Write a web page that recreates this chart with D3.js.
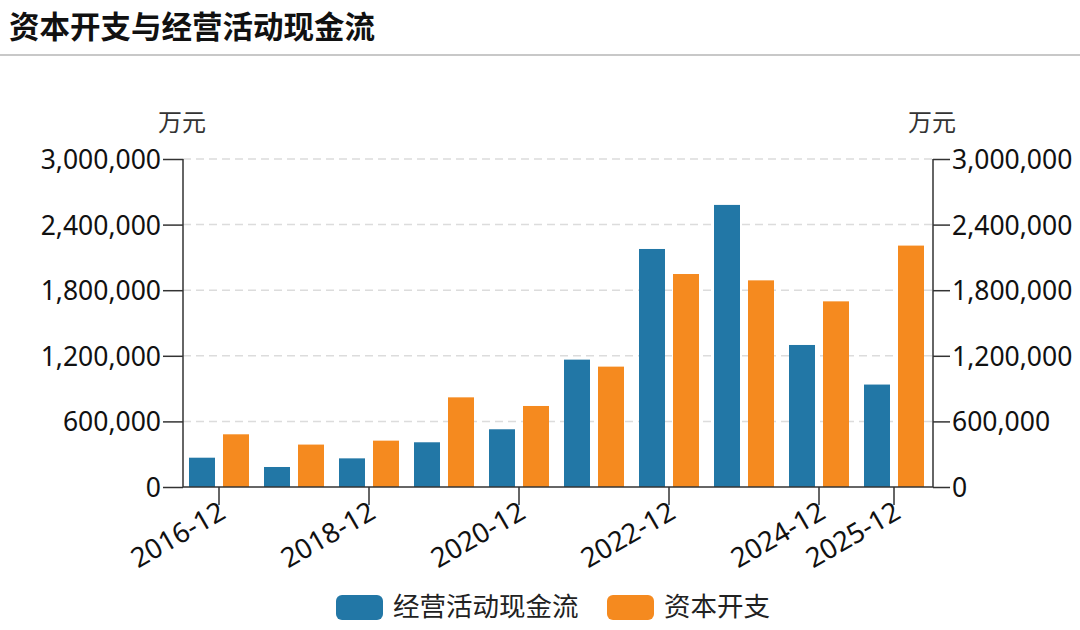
<!DOCTYPE html>
<html><head><meta charset="utf-8">
<script src="https://cdn.jsdelivr.net/npm/d3@7"></script>
<style>
body{margin:0;background:#fff;}
</style></head>
<body><svg id="c" width="1080" height="630"></svg>
<script>
const categories=["2016-12","2017-12","2018-12","2019-12","2020-12","2021-12","2022-12","2023-12","2024-12","2025-12"];
const tickLabels=["2016-12","2018-12","2020-12","2022-12","2024-12","2025-12"];
const opCash=[268000,183000,262000,409000,528000,1165000,2177000,2580000,1299000,937000];
const capex=[482000,388000,424000,820000,741000,1101000,1948000,1890000,1698000,2208000];
const yTicks=[0,600000,1200000,1800000,2400000,3000000];
const seriesNames=["经营活动现金流","资本开支"];
const colors=["#2277a6","#f58a1f"];

const svg=d3.select("#c");
const font='"Noto Sans","Noto Sans CJK SC",sans-serif';
const cjk='"Noto Sans CJK SC","Noto Sans",sans-serif';
svg.append("text").attr("x",9).attr("y",38).text("资本开支与经营活动现金流")
  .attr("font-size",30.5).attr("font-weight","bold").attr("fill","#111").attr("font-family",cjk);
svg.append("rect").attr("x",0).attr("y",54).attr("width",1080).attr("height",2).attr("fill","#c8c8c8");

const L=183,R=933,T=159,B=487;
const x=d3.scaleBand().domain(categories).range([L,R]).paddingInner(0).paddingOuter(0);
const y=d3.scaleLinear().domain([0,3000000]).range([B,T]);
const fmt=d3.format(",");

// grid
svg.append("g").selectAll("line").data(yTicks.filter(d=>d>0)).join("line")
  .attr("x1",L).attr("x2",R).attr("y1",d=>y(d)).attr("y2",d=>y(d))
  .attr("stroke","#dcdcdc").attr("stroke-width",1.5).attr("stroke-dasharray","8,5");

// bars
const bw=26,gap=8;
const g=svg.append("g");
categories.forEach((c,i)=>{
  const cx=x(c)+x.bandwidth()/2-1.5;
  g.append("rect").attr("x",cx-gap/2-bw).attr("width",bw).attr("y",y(opCash[i])).attr("height",B-y(opCash[i])).attr("fill",colors[0]);
  g.append("rect").attr("x",cx+gap/2).attr("width",bw).attr("y",y(capex[i])).attr("height",B-y(capex[i])).attr("fill",colors[1]);
});

// axes
const axL=svg.append("g").attr("transform",`translate(${L},0)`).call(d3.axisLeft(y).tickValues(yTicks).tickFormat(fmt).tickSize(20).tickPadding(2));
const axR=svg.append("g").attr("transform",`translate(${R},0)`).call(d3.axisRight(y).tickValues(yTicks).tickFormat(fmt).tickSize(17).tickPadding(2));
const axB=svg.append("g").attr("transform",`translate(0,${B})`).call(d3.axisBottom(x).tickValues(tickLabels).tickSize(18).tickSizeOuter(0));
[axL,axR,axB].forEach(a=>{
  a.select(".domain").attr("stroke","#333").attr("stroke-width",1.5);
  a.selectAll(".tick line").attr("stroke","#333").attr("stroke-width",1.5);
  a.selectAll("text").attr("font-size",26.5).attr("fill","#111").attr("font-family",font);
});
axL.selectAll(".tick text").attr("dy","0.36em");
axR.selectAll(".tick text").attr("dy","0.36em");
axL.select(".domain").attr("d",`M0,${T}V${B}`);
axR.select(".domain").attr("d",`M0,${T}V${B}`);
axB.select(".domain").attr("d",`M${L},0H${R}`);
axB.selectAll(".tick line").attr("transform","translate(-1.5,0)");
axB.selectAll(".tick text").attr("font-size",27.5).attr("text-anchor","end").attr("dy","0.72em").attr("y",0)
  .attr("transform","translate(-3,13) rotate(-30)");

svg.append("text").attr("x",182).attr("y",131).attr("text-anchor","middle").text("万元")
  .attr("font-size",24).attr("fill","#333").attr("font-family",cjk);
svg.append("text").attr("x",932).attr("y",131).attr("text-anchor","middle").text("万元")
  .attr("font-size",24).attr("fill","#333").attr("font-family",cjk);

// legend
const legX=[336,607];
seriesNames.forEach((n,i)=>{
  svg.append("rect").attr("x",legX[i]).attr("y",595).attr("width",47).attr("height",25).attr("rx",6).attr("fill",colors[i]);
  svg.append("text").attr("x",legX[i]+57).attr("y",616).text(n).attr("font-size",26.5).attr("fill","#222").attr("font-family",cjk);
});
</script></body></html>
